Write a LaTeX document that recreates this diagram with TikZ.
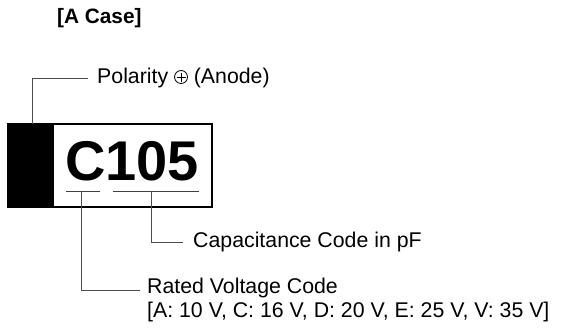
\documentclass[tikz,border=0pt]{standalone}
\usepackage{fontspec}
\setmainfont{Liberation Sans}
\newfontfamily\dejavu{DejaVu Sans}
\begin{document}
\begin{tikzpicture}[x=1pt,y=-1pt,
  lbl/.style={anchor=west,inner sep=0pt,font=\fontsize{21.3}{24}\selectfont},
  lead/.style={draw=black!70,line width=0.8pt},
  uline/.style={draw=black!75,line width=0.9pt}]
\useasboundingbox (0,0) rectangle (566,328);
\node[anchor=west,inner sep=0pt,font=\fontsize{20.8}{24}\selectfont\bfseries] (title) at (57,18) {[A Case]};
% case
\fill[black] (8,124) rectangle (54,207);
\draw[line width=1.2pt] (8,124) rectangle (212,207);
\node[inner sep=0pt,font=\fontsize{56}{60}\selectfont\bfseries,anchor=base] (mark) at (132,181) {C105};
% underlines
\coordinate (u1a) at (66,191); \coordinate (u1b) at (100,191);
\coordinate (u2a) at (113,191); \coordinate (u2b) at (199,191);
\draw[uline] (u1a) -- (u1b);
\draw[uline] (u2a) -- (u2b);
% polarity
\node[lbl] (pol) at (97,78) {Polarity \tikz[x=1pt,y=1pt,baseline=-6.5pt,line width=0.8pt]{\draw (0,0) circle (6.5); \draw (-4.5,0) -- (4.5,0) (0,-4.5) -- (0,4.5);} (Anode)};
\coordinate (pbot) at (32,124);
\draw[lead] (pbot) -- (32,78) -- (88,78);
% capacitance
\node[lbl] (cap) at (193,242) {Capacitance Code in pF};
\coordinate (c1) at (151,191);
\draw[lead] (c1) -- (151,242) -- (183,242);
% rated voltage
\node[lbl,align=left] (rv) at (147,300) {Rated Voltage Code\\{}[A: 10 V, C: 16 V, D: 20 V, E: 25 V, V: 35 V]};
\coordinate (v1) at (81,191);
\draw[lead] (v1) -- (81,290) -- (140,290);
\end{tikzpicture}
\end{document}
